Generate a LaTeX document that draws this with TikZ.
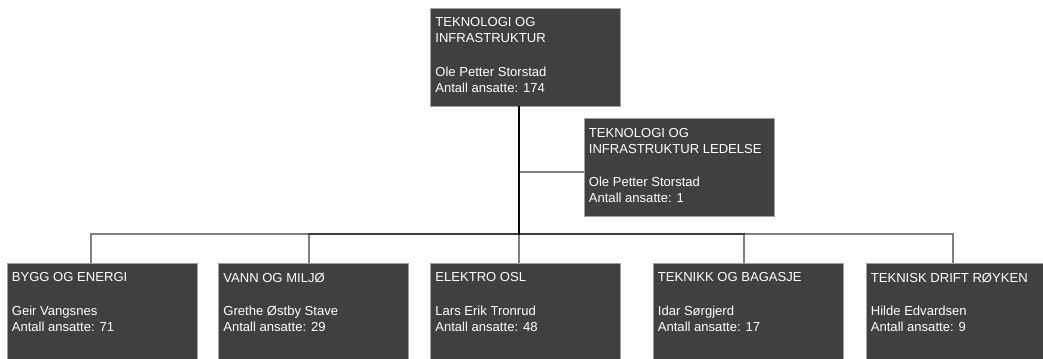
\documentclass[tikz,border=0pt]{standalone}
\usepackage{fontspec}
\setmainfont{Liberation Sans}
\usepackage{xcolor}

\definecolor{boxfill}{HTML}{404040}
\definecolor{boxline}{HTML}{A0A0A0}

\tikzset{
	unit/.style={rectangle, fill=boxfill, draw=boxline, line width=0.6pt,
		minimum width=142.5pt, minimum height=73.5pt, inner sep=0pt},
	unittext/.style={anchor=north west, inner sep=0pt, text=white, align=left,
		font=\fontsize{9.8}{12}\selectfont, xshift=3.75pt, yshift=-7.5pt},
	conn/.style={draw=black, opacity=0.5, line width=0.9pt}
}

\begin{document}
\begin{tikzpicture}[x=0.75pt,y=-0.75pt]
		\useasboundingbox (0,0) rectangle (1043,358);
		% boxes
		\node[unit] (topunit) at (525.5,57) {};
		\node[unit] (ledelse) at (679,167.5) {};
		\node[unit] (bygg) at (102,312) {};
		\node[unit] (vann) at (313.5,312) {};
		\node[unit] (elektro) at (525.5,312) {};
		\node[unit] (teknikk) at (748,312) {};
		\node[unit] (teknisk) at (961,312) {};
		% texts
		\node[unittext] (topunittext) at (topunit.north west) {TEKNOLOGI OG\\INFRASTRUKTUR\\[13pt]Ole Petter Storstad\\Antall ansatte: 174};
		\node[unittext] (ledelsetext) at (ledelse.north west) {TEKNOLOGI OG\\INFRASTRUKTUR LEDELSE\\[13pt]Ole Petter Storstad\\Antall ansatte: 1};
		\node[unittext] (byggtext) at (bygg.north west) {BYGG OG ENERGI\\[13pt]Geir Vangsnes\\Antall ansatte: 71};
		\node[unittext] (vanntext) at (vann.north west) {VANN OG MILJØ\\[13pt]Grethe Østby Stave\\Antall ansatte: 29};
		\node[unittext] (elektrotext) at (elektro.north west) {ELEKTRO OSL\\[13pt]Lars Erik Tronrud\\Antall ansatte: 48};
		\node[unittext] (teknikktext) at (teknikk.north west) {TEKNIKK OG BAGASJE\\[13pt]Idar Sørgjerd\\Antall ansatte: 17};
		\node[unittext] (tekniskttext) at (teknisk.north west) {TEKNISK DRIFT RØYKEN\\[13pt]Hilde Edvardsen\\Antall ansatte: 9};
		% connectors
		\coordinate (trunk) at (519,106);
		\coordinate (bus) at (519,234);
		\coordinate (ledelsein) at (584,172);
		\coordinate (byggin) at (91,263);
		\coordinate (vannin) at (309,263);
		\coordinate (elektroin) at (519,263);
		\coordinate (teknikkin) at (744,263);
		\coordinate (tekniskin) at (953,263);
		\draw[conn] (trunk) |- (ledelsein);
		\draw[conn] (trunk) -- (bus) -| (byggin);
		\draw[conn] (trunk) -- (bus) -| (vannin);
		\draw[conn] (trunk) -- (bus) -- (elektroin);
		\draw[conn] (trunk) -- (bus) -| (teknikkin);
		\draw[conn] (trunk) -- (bus) -| (tekniskin);
	\end{tikzpicture}
\end{document}
